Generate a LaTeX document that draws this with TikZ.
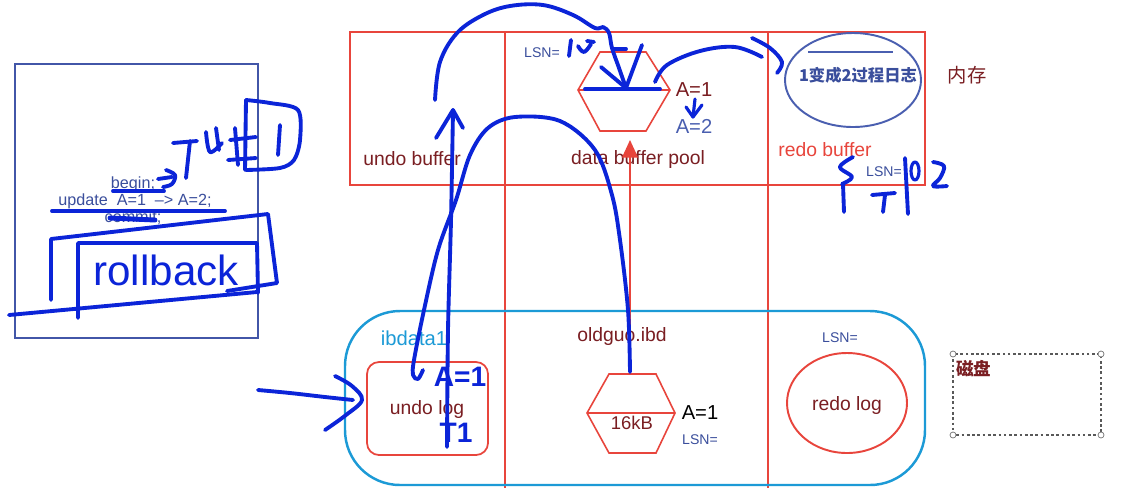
\documentclass[tikz,border=0pt]{standalone}
\usepackage{fontspec}
\setmainfont{Liberation Sans}
\newfontfamily\cjk{Noto Sans CJK SC}
\usetikzlibrary{arrows.meta}
\definecolor{mred}{HTML}{E8453C}
\definecolor{dred}{HTML}{7A1E22}
\definecolor{dblue}{HTML}{3A4E9C}
\definecolor{eblue}{HTML}{4A5FB0}
\definecolor{cyanb}{HTML}{1C9AD6}
\definecolor{hand}{HTML}{0B24D8}
\definecolor{lbox}{HTML}{4256A8}
\begin{document}
\begin{tikzpicture}[x=0.02cm,y=-0.02cm,
  redline/.style={draw=mred,line width=0.9pt},
  handst/.style={draw=hand,line width=2.2pt,line cap=round,line join=round},
  lbl/.style={inner sep=0pt,font=\fontsize{11}{13}\selectfont,text=dred},
  smalllbl/.style={inner sep=0pt,font=\fontsize{8}{10}\selectfont,text=dblue},
  handtxt/.style={inner sep=0pt,text=hand,font=\bfseries\fontsize{16}{18}\selectfont},
  sqltxt/.style={inner sep=0pt,text=dblue,font=\fontsize{9.2}{11}\selectfont}]
\useasboundingbox (0,0) rectangle (1142,488);
\fill[white] (0,0) rectangle (1142,488);

% left SQL box
\draw[lbox,line width=1pt] (15,64) rectangle (258,338);
\node[sqltxt] (begin) at (133,184) {begin;};
\node[sqltxt] (update) at (135,201) {update\ \ A=1\ \ --> A=2;};
\node[sqltxt] (commit) at (133,218) {commit;};

% memory box
\draw[redline] (350,32) rectangle (925,185);
\draw[redline] (505,32) -- (505,488);
\draw[redline] (768,32) -- (768,488);
\node[lbl] (undobuf) at (412,159) {undo buffer};
\node[lbl] (datapool) at (638,159) {data buffer pool};
\node[lbl,text=mred] (redobuf) at (825,150) {redo buffer};
\node[lbl,font=\cjk\fontsize{11}{13}\selectfont] (neicun) at (967,75) {内存};

% page in buffer pool
\draw[redline] (578,90) -- (600,52) -- (646,52) -- (670,90) -- (646,131) -- (600,131) -- cycle;
\draw[redline] (578,90) -- (670,90);
\coordinate (hexTop) at (630,140);
\node[smalllbl] (lsn1) at (542,53) {LSN=};
\node[lbl,font=\fontsize{11.5}{13}\selectfont] (a1) at (694,90) {A=1};
\node[lbl,text=eblue,font=\fontsize{11.5}{13}\selectfont] (a2) at (694,126) {A=2};

% redo buffer ellipse
\draw[eblue,line width=1.1pt] (853,80) ellipse [x radius=68,y radius=47];
\draw[eblue,line width=1.1pt] (808,52) -- (893,52);
\node[inner sep=0pt,text=dblue,font=\cjk\bfseries\fontsize{9.3}{11}\selectfont] (proc) at (858,75) {1变成2过程日志};
\node[smalllbl] (lsn2) at (884,172) {LSN=};

% disk area
\draw[cyanb,line width=1.4pt,rounded corners=1.1cm] (345,311) rectangle (925,485);
\node[lbl,text=cyanb,font=\fontsize{11.5}{13}\selectfont] (ibdata) at (414,338) {ibdata1};
\draw[mred,line width=1pt,rounded corners=0.24cm] (367,362) rectangle (488,455);
\node[lbl] (undolog) at (427,409) {undo log};
\node[lbl] (ibd) at (622,336) {oldguo.ibd};
\draw[redline] (587,413) -- (609,374) -- (656,374) -- (675,413) -- (656,453) -- (609,453) -- cycle;
\draw[redline] (587,413) -- (675,413);
\coordinate (hexBot) at (630,374);
\node[lbl,font=\fontsize{10.5}{12}\selectfont] (kb) at (632,423) {16kB};
\node[lbl,text=black,font=\fontsize{11.5}{13}\selectfont] (a1b) at (700,413) {A=1};
\node[smalllbl] (lsn3) at (700,440) {LSN=};
\node[smalllbl] (lsn4) at (840,338) {LSN=};
\draw[mred,line width=1.1pt] (847,403) ellipse [x radius=60,y radius=50];
\node[lbl] (redolog) at (847,405) {redo log};

% red arrow up
\draw[mred,line width=0.9pt,-{Triangle[width=9pt,length=10pt]}] (hexBot) -- (hexTop);

% dashed disk box
\draw[black!65,line width=0.6pt,dash pattern=on 1.5pt off 1.5pt] (953,354) rectangle (1101,435);
\foreach \p in {(953,354),(1101,354),(953,435),(1101,435)}
  \draw[black!55,fill=white,line width=0.4pt] \p circle (3);
\node[anchor=north west,inner sep=0pt,text=dred,font=\cjk\bfseries\fontsize{10}{12}\selectfont] (cipan) at (956,360) {磁盘};

% ---------------- handwriting ----------------
% big arc to page
\draw[handst] plot[smooth,tension=0.6] coordinates {(435,100) (440,62) (457,33) (483,15) (510,6) (543,5) (573,15) (595,28) (603,27) (609,33) (612,48) (619,68) (626,88)};
\draw[handst] (613,49) -- (626,49);
\draw[handst] (601,67) -- (626,88);
\draw[handst] (642,45) -- (626,88);
\draw[handst] (585,89) -- (660,89);
% arc to redo buffer
\draw[handst] plot[smooth,tension=0.6] coordinates {(655,82) (667,65) (700,51) (735,47) (762,57)};
\draw[handst] plot[smooth,tension=0.6] coordinates {(752,38) (770,48) (782,62) (777,73)};
% LSN = 10 (top)
\draw[handst] (571,40) -- (569,56);
\draw[handst] plot[smooth,tension=0.7] coordinates {(578,46) (584,52) (591,44)};
\draw[handst] (587,41) -- (594,42);
% A=1 -> A=2 small arrow
\draw[handst,line width=1.8pt] (695,99) -- (693,117);
\draw[handst,line width=1.8pt] (686,107) -- (693,117) -- (702,105);
% up arrow through undo log
\draw[handst] plot[smooth,tension=0.5] coordinates {(447,447) (448,330) (451,220) (453,110)};
\draw[handst] (436,138) -- (453,110) -- (463,128);
% long arc from disk page to undo log
\draw[handst] plot[smooth,tension=0.55] coordinates {(630,372) (628,310) (620,240) (612,195) (595,150) (560,121) (515,117) (488,128) (470,155) (456,200) (438,250) (424,310) (414,360) (413,375) (418,379) (423,370)};
% arrow into undo log from left
\draw[handst] plot[smooth,tension=0.6] coordinates {(258,390) (290,393) (325,397) (353,400)};
\draw[handst] plot[smooth,tension=0.6] coordinates {(335,376) (352,386) (362,400) (346,415) (325,430)};
\node[handtxt] (ha1) at (460,377) {A=1};
\node[handtxt] (ht1) at (456,433) {T1};
% redo annotations
\draw[handst] plot[smooth,tension=0.6] coordinates {(853,157) (840,167) (852,177) (842,184)};
\draw[handst] (843,184) -- (844,212);
\draw[handst] (872,195) -- (895,193);
\draw[handst] (885,195) -- (883,212);
\draw[handst] (905,158) -- (908,214);
\draw[handst,line width=1.8pt] (915,171) ellipse [x radius=4,y radius=9];
\draw[handst] plot[smooth,tension=0.6] coordinates {(933,162) (944,166) (940,178) (933,186) (947,186)};
% left box annotations
\draw[handst] (113,191) -- (164,191);
\draw[handst] (158,179) -- (172,177);
\draw[handst] plot[smooth,tension=0.6] coordinates {(166,170) (175,175) (172,184) (163,187)};
\draw[handst] (52,211) -- (225,211);
\draw[handst,line width=2.8pt] (110,218) -- (155,220);
\draw[handst] (173,143) -- (197,141);
\draw[handst] (190,141) -- (186,178);
\draw[handst] plot[smooth,tension=0.6] coordinates {(206,132) (210,152) (222,143)};
\draw[handst] (216,128) -- (219,150);
\draw[handst] (230,140) -- (256,137);
\draw[handst] (235,128) -- (238,165);
\draw[handst] (228,160) -- (256,158);
\draw[handst] (246,100) -- (245,170);
\draw[handst] plot[smooth,tension=0.5] coordinates {(246,100) (270,103) (298,110) (300,140) (294,160) (280,168) (246,170)};
\draw[handst] (280,125) -- (278,155);
% rollback boxes
\draw[handst] (51,300) -- (51,239) -- (268,214) -- (277,283) -- (227,291);
\draw[handst] (78,318) -- (78,243) -- (257,243) -- (258,293);
\draw[handst] (9,315) -- (257,292);
\node[handtxt,font=\fontsize{24}{26}\selectfont] (rb) at (166,270) {rollback};
\end{tikzpicture}
\end{document}
